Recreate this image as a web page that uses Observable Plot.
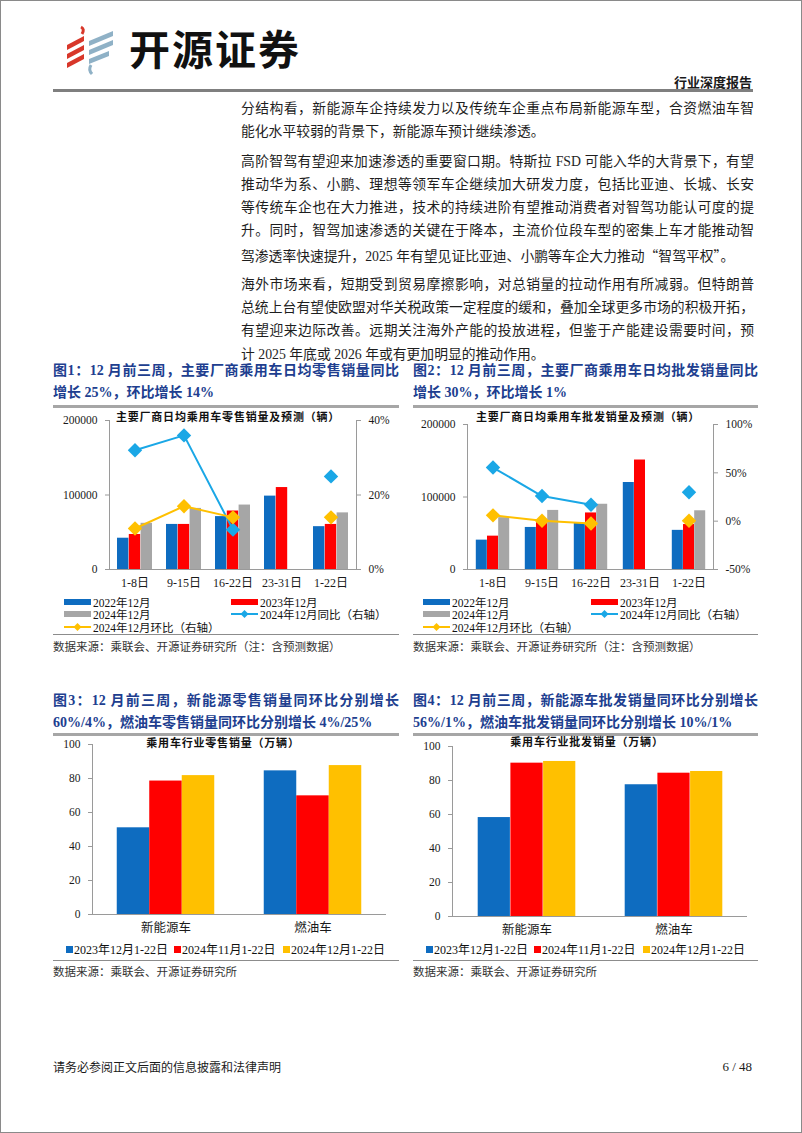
<!DOCTYPE html>
<html lang="zh">
<head>
<meta charset="utf-8">
<script src="https://cdn.jsdelivr.net/npm/d3@7"></script>
<script src="https://cdn.jsdelivr.net/npm/@observablehq/plot@0.6"></script>
<style>
html,body{margin:0;padding:0;background:#fff;}
#page{position:relative;width:802px;height:1133px;box-sizing:border-box;border:1px solid #8a8a8a;overflow:hidden;font-family:"Liberation Serif","Noto Sans CJK SC",serif;color:#1a1a1a;background:#fff;}
.a{position:absolute;white-space:nowrap;}
.body{position:absolute;left:240px;width:513px;font-size:13.8px;line-height:20px;height:20px;text-align:justify;color:#1e1e1e;}
.j{text-align-last:justify;}
.q{font-family:"Noto Sans CJK SC",sans-serif;}
.ftitle{position:absolute;font-size:14px;font-weight:bold;color:#203e8f;line-height:20px;height:20px;text-align:justify;}
.rule{position:absolute;background:#a6a6a6;}
.cap{position:absolute;font-size:11.5px;color:#333;white-space:nowrap;}
.ctitle{position:absolute;font-size:11px;font-weight:bold;letter-spacing:0.8px;white-space:nowrap;transform:translate(-50%,-50%);color:#111;}
.leg{position:absolute;display:flex;align-items:center;white-space:nowrap;height:14px;color:#111;}
.plotbox{position:absolute;}
</style>
</head>
<body>
<div id="page">
  <!-- header -->
  <svg class="a" style="left:60px;top:20px" width="60" height="58" viewBox="0 0 60 58">
    <path d="M20 6 q4 2 1 7" stroke="#d8372a" stroke-width="3" fill="none"/>
    <polygon points="6,24 23,15 23,20 6,29" fill="#d8372a"/>
    <polygon points="6,33 23,24 23,29 6,38" fill="#d8372a"/>
    <polygon points="6,42 23,33 23,38 6,47" fill="#d8372a"/>
    <polygon points="28,20 52,10 52,15 28,25" fill="#8fb1c6"/>
    <polygon points="28,29 52,19 52,24 28,34" fill="#8fb1c6"/>
    <polygon points="28,38 48,30 48,35 28,43" fill="#8fb1c6"/>
    <path d="M30 44 q-3 5 1 9" stroke="#8fb1c6" stroke-width="3" fill="none"/>
  </svg>
  <div class="a" style="left:128px;top:20px;font-family:'Noto Sans CJK SC',sans-serif;font-weight:700;font-size:41px;letter-spacing:2px;color:#111;line-height:52px;">开源证券</div>
  <div class="a" style="right:49px;top:73px;font-size:13px;font-weight:bold;line-height:18px;">行业深度报告</div>
  <div class="rule" style="left:52px;top:88px;width:700px;height:2.5px;background:#7f7f7f;"></div>
  <div id="bodytext"></div>

  <!-- figure titles -->
  <div id="figtitles"></div>

  <div class="plotbox" id="c1" style="left:40px;top:408px;"></div>
  <div class="plotbox" id="c2" style="left:405px;top:408px;"></div>
  <div class="plotbox" id="c3" style="left:40px;top:735px;"></div>
  <div class="plotbox" id="c4" style="left:405px;top:735px;"></div>
  <div id="legends"></div>

  <div class="rule" style="left:52px;top:633px;width:346px;height:1px;background:#8c8c8c;"></div>
  <div class="rule" style="left:412px;top:633px;width:345px;height:1px;background:#8c8c8c;"></div>
  <div class="cap" style="left:52px;top:637px;">数据来源：乘联会、开源证券研究所（注：含预测数据）</div>
  <div class="cap" style="left:412px;top:637px;">数据来源：乘联会、开源证券研究所（注：含预测数据）</div>
  <div class="rule" style="left:52px;top:959px;width:346px;height:1px;background:#8c8c8c;"></div>
  <div class="rule" style="left:412px;top:959px;width:345px;height:1px;background:#8c8c8c;"></div>
  <div class="cap" style="left:52px;top:962px;">数据来源：乘联会、开源证券研究所</div>
  <div class="cap" style="left:412px;top:962px;">数据来源：乘联会、开源证券研究所</div>

  <div class="a" style="left:52px;top:1059px;font-size:12px;line-height:16px;">请务必参阅正文后面的信息披露和法律声明</div>
  <div class="a" style="right:49px;top:1058px;font-size:13px;line-height:16px;">6 / 48</div>
</div>
<script>
// ---------- data ----------
const cats = ["1-8日", "9-15日", "16-22日", "23-31日", "1-22日"];
const barSeriesNames = ["2022年12月", "2023年12月", "2024年12月"];
const yoyName = "2024年12月同比（右轴）";
const momName = "2024年12月环比（右轴）";

// Fig 1: retail daily average (辆) and YoY / MoM (%)
const retail2022 = [42000, 60500, 71000, 98500, 57500];
const retail2023 = [47000, 60500, 78500, 110000, 60500];
const retail2024 = [62000, 82000, 86500, null, 76000];
const retailYoY = [32, 36, 10.7, null, 25];
const retailMoM = [11, 17, 14, null, 14];

// Fig 2: wholesale daily average (辆) and YoY / MoM (%)
const whole2022 = [40500, 58000, 63500, 120000, 54000];
const whole2023 = [46000, 64500, 78000, 151000, 62000];
const whole2024 = [71500, 81500, 90000, null, 81000];
const wholeYoY = [55.5, 26, 17, null, 30];
const wholeMoM = [6, 0.5, -2.5, null, 0.5];

// Fig 3/4: industry volume (万辆)
const types = ["新能源车", "燃油车"];
const periodNames = ["2023年12月1-22日", "2024年11月1-22日", "2024年12月1-22日"];
const retailDec23 = [51, 84.5];
const retailNov24 = [78.5, 69.8];
const retailDec24 = [81.7, 87.6];
const wsDec23 = [58.2, 77.5];
const wsNov24 = [90.2, 84.3];
const wsDec24 = [91.2, 85.3];

const leftTicks = [0, 100000, 200000];
const fig1RightTicks = [0, 20, 40];
const fig2RightTicks = [-50, 0, 50, 100];
const volTicks = [0, 20, 40, 60, 80, 100];

const BLUE = "#0e6cc0", RED = "#ff0000", GREY = "#a6a6a6", LBLUE = "#1aa7e6", YELLOW = "#ffc000";
const AXIS = "#9a9a9a";
const FONT = "'Liberation Serif','Noto Sans CJK SC',serif";

// ---------- body text ----------
const bodyLines = [
  ["分结构看，新能源车企持续发力以及传统车企重点布局新能源车型，合资燃油车智", 108, true],
  ["能化水平较弱的背景下，新能源车预计继续渗透。", 131, false],
  ["高阶智驾有望迎来加速渗透的重要窗口期。特斯拉 FSD 可能入华的大背景下，有望", 161, true],
  ["推动华为系、小鹏、理想等领军车企继续加大研发力度，包括比亚迪、长城、长安", 184, true],
  ["等传统车企也在大力推进，技术的持续进阶有望推动消费者对智驾功能认可度的提", 207, true],
  ["升。同时，智驾加速渗透的关键在于降本，主流价位段车型的密集上车才能推动智", 230, true],
  ["驾渗透率快速提升，2025 年有望见证比亚迪、小鹏等车企大力推动“智驾平权”。", 254, false],
  ["海外市场来看，短期受到贸易摩擦影响，对总销量的拉动作用有所减弱。但特朗普", 284, true],
  ["总统上台有望使欧盟对华关税政策一定程度的缓和，叠加全球更多市场的积极开拓，", 307, true],
  ["有望迎来边际改善。远期关注海外产能的投放进程，但鉴于产能建设需要时间，预", 330, true],
  ["计 2025 年底或 2026 年或有更加明显的推动作用。", 354, false]
];
const bt = document.getElementById("bodytext");
for (const [t, y, j] of bodyLines) {
  const d = document.createElement("div");
  d.className = "body" + (j ? " j" : "");
  d.style.top = (y - 10) + "px";
  d.innerHTML = t.replace(/[“”]/g, m => `<span class="q">${m}</span>`);
  bt.appendChild(d);
}

const figTitles = [
  ["图1：12 月前三周，主要厂商乘用车日均零售销量同比", 52, 370, 346, true],
  ["增长 25%，环比增长 14%", 52, 392, 346, false],
  ["图2：12 月前三周，主要厂商乘用车日均批发销量同比", 412, 370, 345, true],
  ["增长 30%，环比增长 1%", 412, 392, 345, false],
  ["图3：12 月前三周，新能源零售销量同环比分别增长", 52, 700, 346, true],
  ["60%/4%，燃油车零售销量同环比分别增长 4%/25%", 52, 722, 346, false],
  ["图4：12 月前三周，新能源车批发销量同环比分别增长", 412, 700, 345, true],
  ["56%/1%，燃油车批发销量同环比分别增长 10%/1%", 412, 722, 345, false]
];
const ft = document.getElementById("figtitles");
for (const [t, x, y, w, j] of figTitles) {
  const d = document.createElement("div");
  d.className = "ftitle" + (j ? " j" : "");
  d.style.left = x + "px"; d.style.top = (y - 10) + "px"; d.style.width = w + "px";
  d.textContent = t;
  ft.appendChild(d);
}
for (const [x, y, w] of [[52, 404, 346], [412, 404, 345], [52, 732, 346], [412, 732, 345]]) {
  const r = document.createElement("div");
  r.className = "rule";
  Object.assign(r.style, {left: x + "px", top: y + "px", width: w + "px", height: "2.5px"});
  ft.appendChild(r);
}

// ---------- charts ----------
function comboChart({v22, v23, v24, yoy, mom, rMin, rMax, rTicks, width, height, ml, mr, mt, mb, barW}) {
  const yMax = 200000;
  const toY = r => (r - rMin) / (rMax - rMin) * yMax;
  const bw = (width - ml - mr) / cats.length;
  const inset = (bw - barW) / 2;
  const rows = cats.map((c, i) => ({
    cat: c, a: v22[i], b: v23[i], c: v24[i],
    yoy: yoy[i] == null ? null : toY(yoy[i]),
    mom: mom[i] == null ? null : toY(mom[i])
  }));
  const bar = (key, fill, dx) => Plot.barY(rows.filter(d => d[key] != null), {x: "cat", y: key, fill, insetLeft: inset, insetRight: inset, dx});
  return Plot.plot({
    width, height, marginLeft: ml, marginRight: mr, marginTop: mt, marginBottom: mb,
    style: {fontFamily: FONT, fontSize: "11.5px", background: "transparent", overflow: "visible"},
    x: {domain: cats, padding: 0, axis: null},
    y: {domain: [0, yMax], axis: null, label: null},
    marks: [
      bar("a", BLUE, -barW),
      bar("b", RED, 0),
      bar("c", GREY, barW),
      Plot.ruleY([0], {stroke: AXIS}),
      Plot.frame({anchor: "left", stroke: AXIS}),
      Plot.frame({anchor: "right", stroke: AXIS}),
      Plot.line(rows, {x: "cat", y: "yoy", stroke: LBLUE, strokeWidth: 2}),
      Plot.dot(rows.filter(d => d.yoy != null), {x: "cat", y: "yoy", symbol: "diamond2", r: 6.5, fill: LBLUE, stroke: "none"}),
      Plot.line(rows, {x: "cat", y: "mom", stroke: YELLOW, strokeWidth: 2}),
      Plot.dot(rows.filter(d => d.mom != null), {x: "cat", y: "mom", symbol: "diamond2", r: 6.5, fill: YELLOW, stroke: "none"}),
      Plot.axisX({tickSize: 0, tickPadding: 9, fontSize: 12, label: null}),
      Plot.axisY({anchor: "left", ticks: leftTicks, tickSize: 4, tickPadding: 8, stroke: AXIS, tickFormat: d3.format("d"), label: null}),
      Plot.axisY({anchor: "right", ticks: rTicks.map(toY), tickSize: 4, tickPadding: 8, stroke: AXIS,
        tickFormat: d => Math.round(d / yMax * (rMax - rMin) + rMin) + "%", label: null})
    ]
  });
}

function volChart({s1, s2, s3, width, height, ml, mr, mt, mb, barW}) {
  const bw = (width - ml - mr) / types.length;
  const inset = (bw - barW) / 2;
  const rows = types.map((t, i) => ({t, a: s1[i], b: s2[i], c: s3[i]}));
  const bar = (key, fill, dx) => Plot.barY(rows, {x: "t", y: key, fill, insetLeft: inset, insetRight: inset, dx});
  return Plot.plot({
    width, height, marginLeft: ml, marginRight: mr, marginTop: mt, marginBottom: mb,
    style: {fontFamily: FONT, fontSize: "11.5px", background: "transparent", overflow: "visible"},
    x: {domain: types, padding: 0, axis: null},
    y: {domain: [0, 100], axis: null, label: null},
    marks: [
      bar("a", BLUE, -barW),
      bar("b", RED, 0),
      bar("c", YELLOW, barW),
      Plot.ruleY([0], {stroke: AXIS}),
      Plot.frame({anchor: "left", stroke: AXIS}),
      Plot.axisX({tickSize: 0, tickPadding: 9, fontSize: 12.5, label: null}),
      Plot.axisY({anchor: "left", ticks: volTicks, tickSize: 4, tickPadding: 8, stroke: AXIS, label: null})
    ]
  });
}

document.getElementById("c1").appendChild(comboChart({
  v22: retail2022, v23: retail2023, v24: retail2024, yoy: retailYoY, mom: retailMoM,
  rMin: 0, rMax: 40, rTicks: fig1RightTicks, width: 360, height: 190, ml: 68, mr: 45, mt: 11, mb: 30, barW: 11.8
}));
document.getElementById("c2").appendChild(comboChart({
  v22: whole2022, v23: whole2023, v24: whole2024, yoy: wholeYoY, mom: wholeMoM,
  rMin: -50, rMax: 100, rTicks: fig2RightTicks, width: 370, height: 190, ml: 61, mr: 63, mt: 15, mb: 30, barW: 11.2
}));
document.getElementById("c3").appendChild(volChart({
  s1: retailDec23, s2: retailNov24, s3: retailDec24, width: 360, height: 205, ml: 51, mr: 15, mt: 8, mb: 27, barW: 32.5
}));
document.getElementById("c4").appendChild(volChart({
  s1: wsDec23, s2: wsNov24, s3: wsDec24, width: 370, height: 205, ml: 46, mr: 29, mt: 10, mb: 25, barW: 32.7
}));

// ---------- chart titles & legends ----------
const lg = document.getElementById("legends");
function addTitle(text, cx, cy) {
  const d = document.createElement("div");
  d.className = "ctitle";
  d.style.left = cx + "px"; d.style.top = cy + "px";
  d.textContent = text;
  lg.appendChild(d);
}
addTitle("主要厂商日均乘用车零售销量及预测（辆）", 227, 415);
addTitle("主要厂商日均乘用车批发销量及预测（辆）", 587, 415);
addTitle("乘用车行业零售销量（万辆）", 222, 741);
addTitle("乘用车行业批发销量（万辆）", 586, 740);

function legendItem(x, y, kind, color, text, fs) {
  const d = document.createElement("div");
  d.className = "leg";
  d.style.left = x + "px"; d.style.top = (y - 7) + "px"; d.style.fontSize = fs + "px";
  let sw;
  if (kind === "bar") {
    sw = `<span style="display:inline-block;width:27px;height:6px;background:${color};margin-right:2px"></span>`;
  } else if (kind === "sq") {
    sw = `<span style="display:inline-block;width:7px;height:7px;background:${color};margin-right:1px"></span>`;
  } else {
    sw = `<svg width="27" height="10" style="margin-right:2px"><line x1="0" y1="5" x2="27" y2="5" stroke="${color}" stroke-width="2"/><polygon points="13.5,1 17.5,5 13.5,9 9.5,5" fill="${color}"/></svg>`;
  }
  d.innerHTML = sw + `<span>${text}</span>`;
  lg.appendChild(d);
}
function comboLegend(x1, x2) {
  legendItem(x1, 601, "bar", BLUE, barSeriesNames[0], 11.5);
  legendItem(x2, 601, "bar", RED, barSeriesNames[1], 11.5);
  legendItem(x1, 612.5, "bar", GREY, barSeriesNames[2], 11.5);
  legendItem(x2, 612.5, "line", LBLUE, yoyName, 11.5);
  legendItem(x1, 625.5, "line", YELLOW, momName, 11.5);
}
comboLegend(63, 230);
comboLegend(422, 590);
function volLegend(xs) {
  legendItem(xs[0], 948, "sq", BLUE, periodNames[0], 12);
  legendItem(xs[1], 948, "sq", RED, periodNames[1], 12);
  legendItem(xs[2], 948, "sq", YELLOW, periodNames[2], 12);
}
volLegend([65, 173, 282]);
volLegend([425, 533, 642]);
</script>
</body>
</html>
